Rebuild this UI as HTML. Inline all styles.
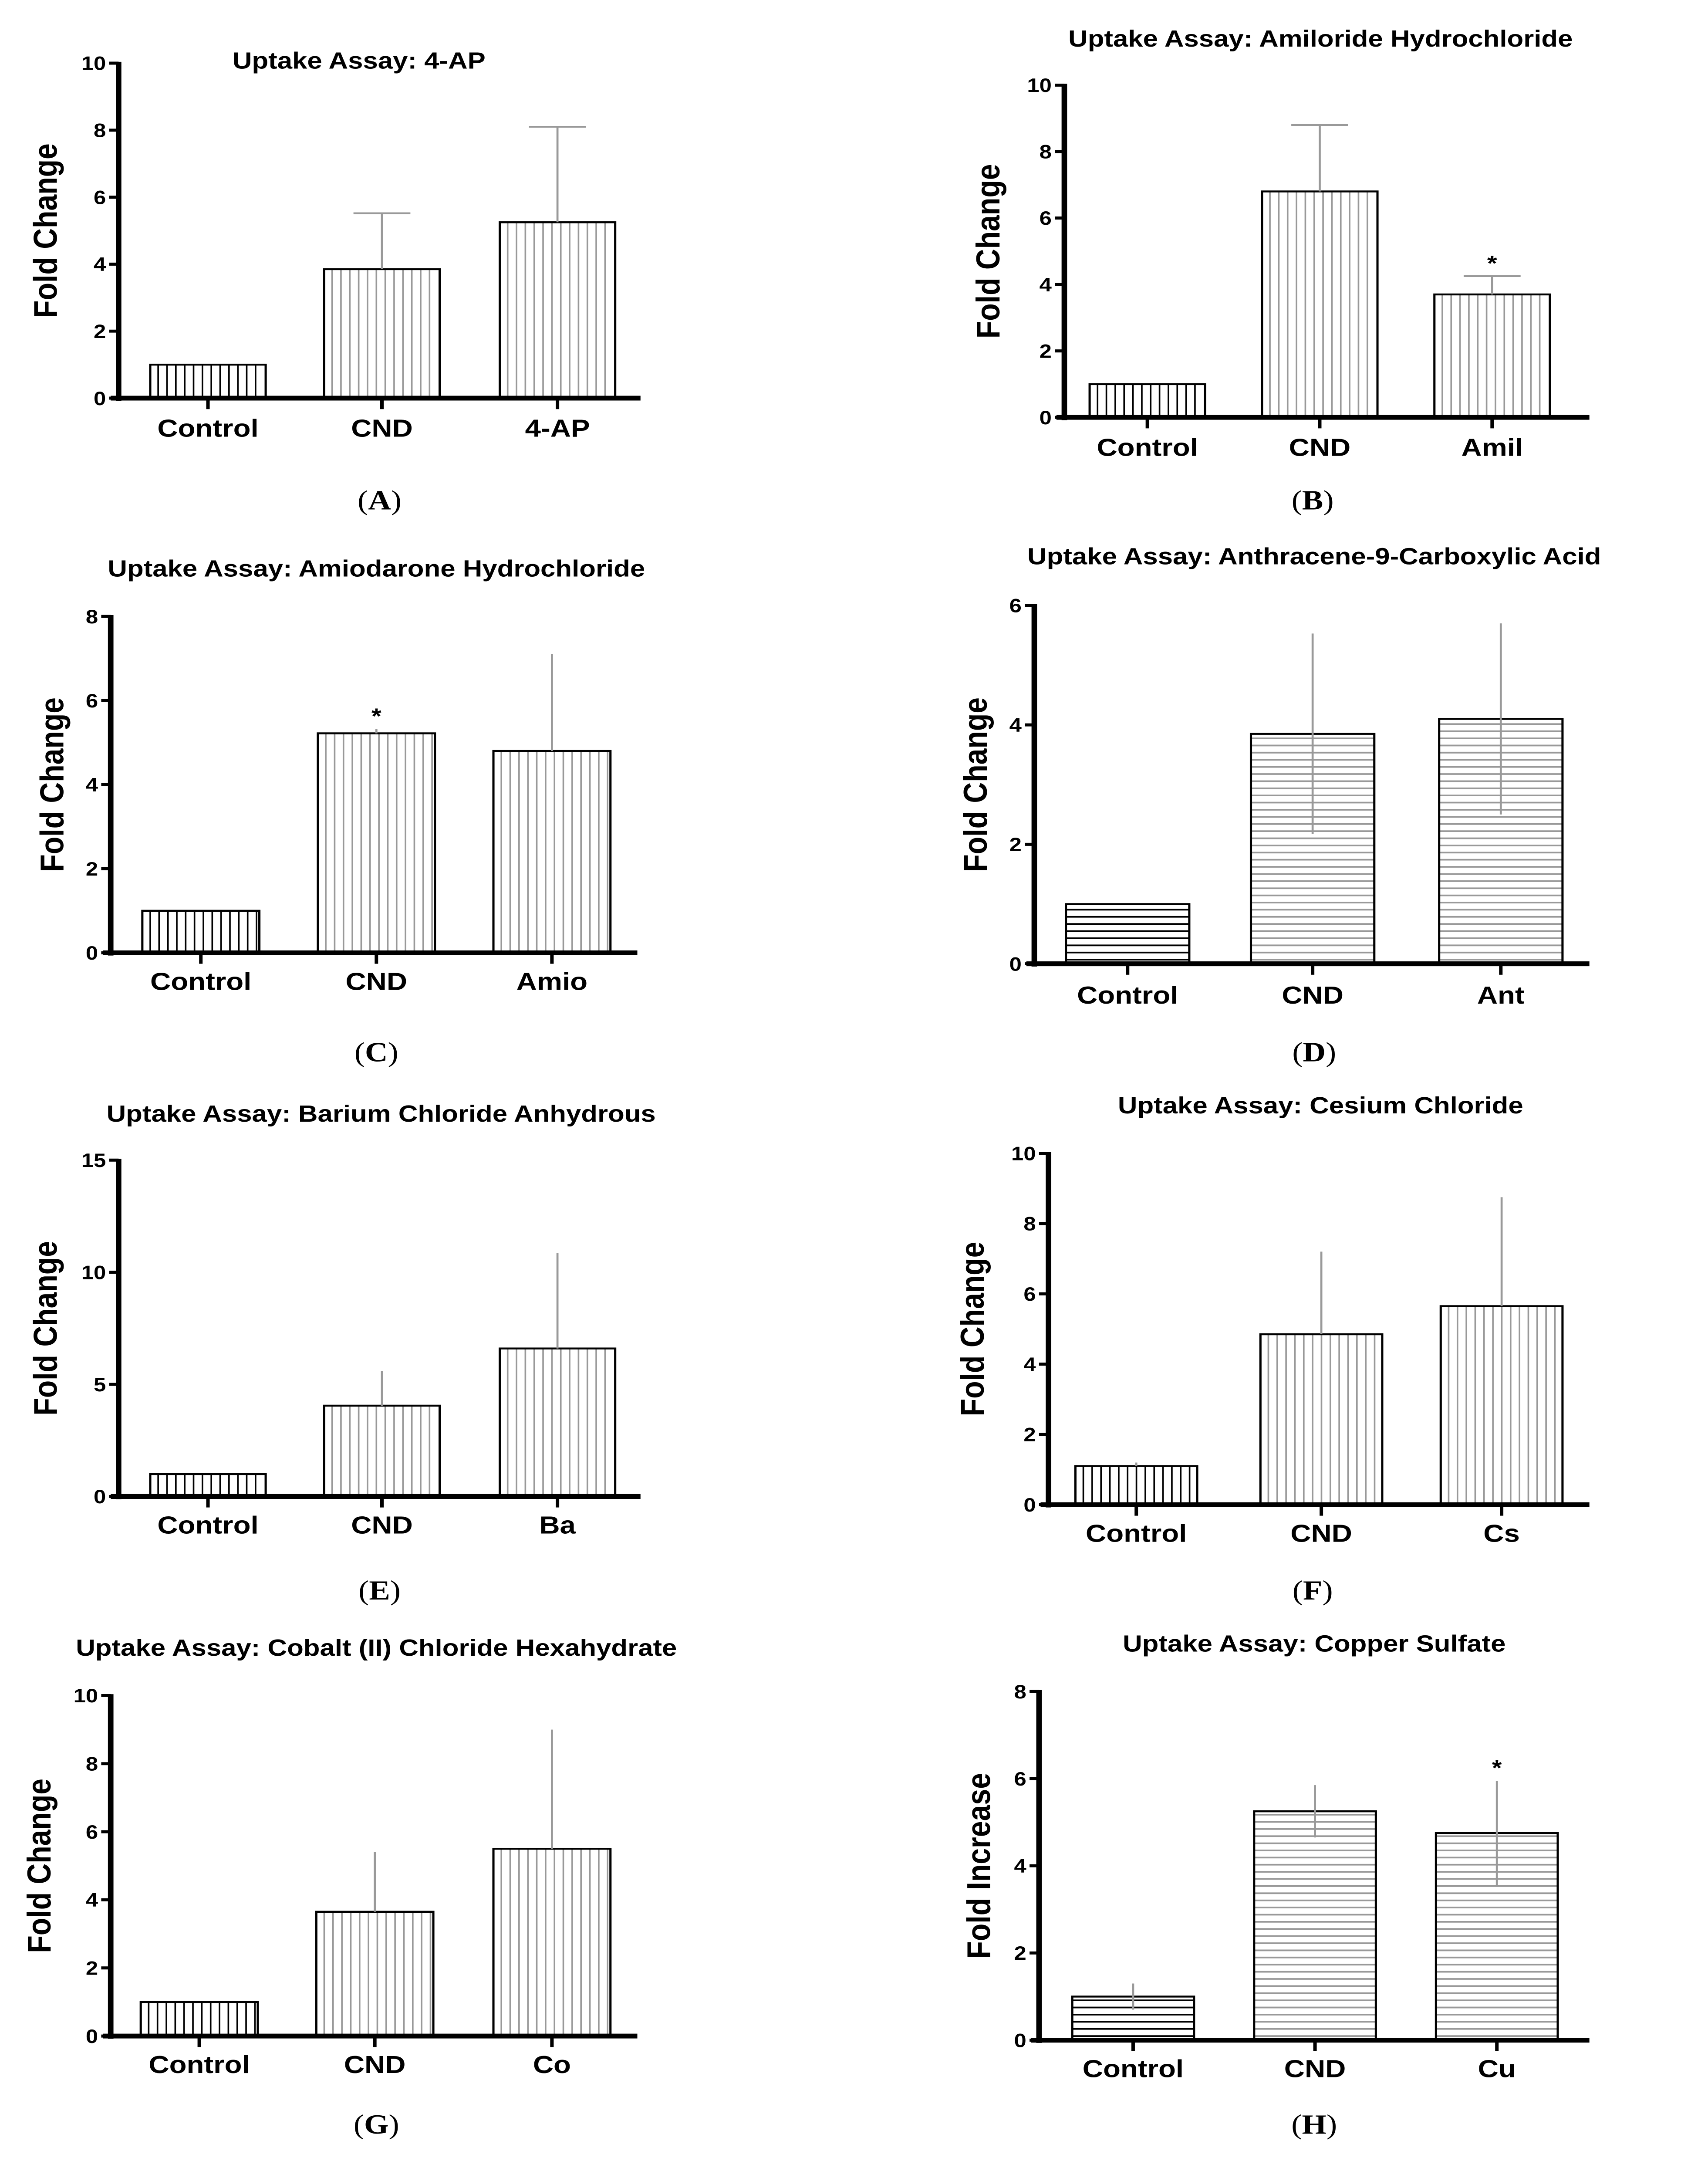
<!DOCTYPE html>
<html><head><meta charset="utf-8"><style>
html,body{margin:0;padding:0;background:#fff;width:100%;height:100%;overflow:hidden;}
svg{display:block;position:fixed;left:0;top:0;width:100vw;height:100vh;}
text{font-family:"Liberation Sans",sans-serif;font-weight:bold;fill:#000;}
.cap{font-family:"Liberation Serif",serif;font-weight:normal;}
</style></head><body>
<svg id="fig" viewBox="0 0 1080 1586.4" preserveAspectRatio="none" xmlns="http://www.w3.org/2000/svg"></svg>
<script>
const panelIds = ["A","B","C","D","E","F","G","H"];
const categories = [["Control","CND","4-AP"],["Control","CND","Amil"],["Control","CND","Amio"],["Control","CND","Ant"],["Control","CND","Ba"],["Control","CND","Cs"],["Control","CND","Co"],["Control","CND","Cu"]];
const titles = ["Uptake Assay: 4-AP","Uptake Assay: Amiloride Hydrochloride","Uptake Assay: Amiodarone Hydrochloride","Uptake Assay: Anthracene-9-Carboxylic Acid","Uptake Assay: Barium Chloride Anhydrous","Uptake Assay: Cesium Chloride","Uptake Assay: Cobalt (II) Chloride Hexahydrate","Uptake Assay: Copper Sulfate"];
const yLabels = ["Fold Change","Fold Change","Fold Change","Fold Change","Fold Change","Fold Change","Fold Change","Fold Increase"];
const values = [[1,3.85,5.25],[1,6.8,3.7],[1,5.22,4.8],[1,3.85,4.1],[1,4.05,6.6],[1.1,4.85,5.65],[1,3.65,5.5],[1,5.25,4.75]];
const errors = [[0,1.67,2.85],[0,2.0,0.55],[0,0.1,2.3],[0,1.68,1.6],[0,1.55,4.25],[0.1,2.35,3.1],[0,1.75,3.5],[0.3,0.6,1.2]];
const yMax = [10,10,8,6,15,10,10,8];
const yTicks = [[0,2,4,6,8,10],[0,2,4,6,8,10],[0,2,4,6,8],[0,2,4,6],[0,5,10,15],[0,2,4,6,8,10],[0,2,4,6,8,10],[0,2,4,6,8]];
const stars = [[],[2],[1],[],[],[],[],[2]];

// layout (not data)
const L = [
 {ax:75,top:46,bot:290,xEnd:405,bx:[95,205,316],bw:73,tY:44,tX:227,lY:312,cY:364,cX:240,yl:36,horiz:false,caps:true,both:false},
 {ax:673,top:62,bot:304,xEnd:1005,bx:[689,798,907],bw:73,tY:28,tX:835,lY:326,cY:364,cX:830,yl:632,horiz:false,caps:true,both:false},
 {ax:70,top:449,bot:694,xEnd:403,bx:[90,201,312],bw:74,tY:414,tX:238,lY:715,cY:766,cX:238,yl:40,horiz:false,caps:false,both:false},
 {ax:654,top:441,bot:702,xEnd:1005,bx:[674,791,910],bw:78,tY:405,tX:831,lY:725,cY:766,cX:831,yl:624,horiz:true,caps:false,both:true},
 {ax:75,top:845,bot:1090,xEnd:405,bx:[95,205,316],bw:73,tY:811,tX:241,lY:1111,cY:1158,cX:240,yl:36,horiz:false,caps:false,both:false},
 {ax:663,top:840,bot:1096,xEnd:1005,bx:[680,797,911],bw:77,tY:805,tX:835,lY:1117,cY:1158,cX:830,yl:622,horiz:false,caps:false,both:false},
 {ax:70,top:1235,bot:1483,xEnd:403,bx:[89,200,312],bw:74,tY:1200,tX:238,lY:1504,cY:1547,cX:238,yl:32,horiz:false,caps:false,both:false},
 {ax:657,top:1232,bot:1486,xEnd:1005,bx:[678,793,908],bw:77,tY:1197,tX:831,lY:1507,cY:1547,cX:831,yl:626,horiz:true,caps:false,both:true}
];
const NS="http://www.w3.org/2000/svg";
const svg=document.getElementById('fig');
function mk(tag,attrs,parent){const e=document.createElementNS(NS,tag);for(const k in attrs)e.setAttribute(k,attrs[k]);(parent||svg).appendChild(e);return e;}
panelIds.forEach((pid,p)=>{
  const l=L[p];
  const g=mk('g',{});
  
  
  const y=v=>l.bot-(v/yMax[p])*(l.bot-l.top);
  values[p].forEach((v,i)=>{
    const x0=l.bx[i],w=l.bw,yt=y(v),col=i===0?'#000':'#999';
    const bg=mk('g',{},g);
    
    
    if(!l.horiz){for(let sx=x0+5;sx<x0+w-1;sx+=5.6)mk('line',{x1:sx,x2:sx,y1:yt,y2:l.bot,stroke:col,'stroke-width':1},bg);}
    else{for(let sy=l.bot-3;sy>yt+2;sy-=5.2)mk('line',{x1:x0,x2:x0+w,y1:sy,y2:sy,stroke:col,'stroke-width':1.2},bg);}
    mk('rect',{x:x0,y:yt,width:w,height:l.bot-yt,fill:'none',stroke:'#000','stroke-width':1.4},bg);
    const e=errors[p][i];
    if(e>0){const cx=x0+w/2;
      const eb=mk('g',{},g);
      
      
      mk('line',{x1:cx,x2:cx,y1:y(v+e),y2:l.both?y(v-e):yt,stroke:'#999','stroke-width':1.3},eb);
      if(l.caps)mk('line',{x1:cx-18,x2:cx+18,y1:y(v+e),y2:y(v+e),stroke:'#999','stroke-width':1.3},eb);
    }
    if(stars[p].includes(i)){const s=mk('text',{x:x0+w/2,y:y(v+e)-4,'text-anchor':'middle','font-size':16},g);s.textContent='*';
      }
    const cx=x0+w/2;
    mk('line',{x1:cx,x2:cx,y1:l.bot,y2:l.bot+8,stroke:'#000','stroke-width':2.2},g);
    const t=mk('text',{x:cx,y:l.lY+6,'text-anchor':'middle','font-size':18},g);t.textContent=categories[p][i];
    
  });
  const ya=mk('line',{x1:l.ax,x2:l.ax,y1:l.top-1,y2:l.bot+2,stroke:'#000','stroke-width':3.5},g);
  
  const xa=mk('line',{x1:l.ax-5,x2:l.xEnd,y1:l.bot,y2:l.bot,stroke:'#000','stroke-width':3.5},g);
  
  yTicks[p].forEach(tv=>{const ty=y(tv);
    mk('line',{x1:l.ax-6,x2:l.ax,y1:ty,y2:ty,stroke:'#000','stroke-width':2.2},g);
    const t=mk('text',{x:l.ax-8,y:ty+5,'text-anchor':'end','font-size':14},g);t.textContent=tv;
    });
  const tt=mk('text',{x:l.tX,y:l.tY+6,'text-anchor':'middle','font-size':17},g);tt.textContent=titles[p];
  
  const yc=(l.top+l.bot)/2;
  const yl=mk('text',{x:l.yl,y:yc,'text-anchor':'middle','font-size':21,transform:'rotate(-90 '+l.yl+' '+yc+')'},g);yl.textContent=yLabels[p];
  
  const c=mk('text',{x:l.cX,y:l.cY+7,'text-anchor':'middle','font-size':20,'class':'cap'},g);
  c.innerHTML='(<tspan font-weight="bold">'+pid+'</tspan>)';
  
});
</script>
</body></html>
